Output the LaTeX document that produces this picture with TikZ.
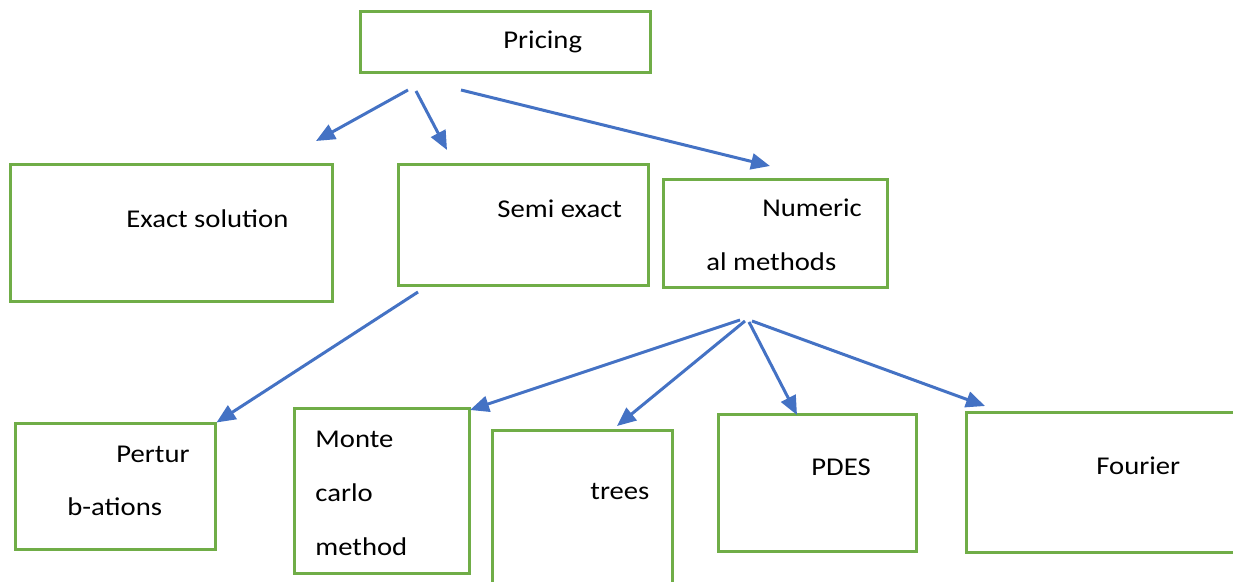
\documentclass[tikz,border=0pt]{standalone}
\usepackage{fontspec}
\setmainfont{Carlito}[FakeStretch=1.12]
\usetikzlibrary{arrows.meta}
\usetikzlibrary{fit}

\definecolor{boxgreen}{HTML}{70AD47}
\definecolor{arrowblue}{HTML}{4472C4}

\tikzset{
  box/.style={draw=boxgreen, line width=1.5pt, inner sep=0pt},
  txt/.style={anchor=base west, inner sep=0pt, font=\fontsize{12.8}{15}\selectfont},
  link/.style={draw=arrowblue, line width=1.5pt, -{Triangle[length=9.5pt,width=8pt]}}
}

\begin{document}
\begin{tikzpicture}[x=0.5pt, y=-0.5pt]
            \useasboundingbox (0,0) rectangle (1233,582);

            % Draw the boxes
            \node[box, fit={(360,12) (650,73)}] (pricing) {};
            \node[box, fit={(10,165) (332,302)}] (exact) {};
            \node[box, fit={(398,165) (648,286)}] (semi) {};
            \node[box, fit={(663,180) (887,288)}] (numeric) {};
            \node[box, fit={(15,424) (215,550)}] (pertur) {};
            \node[box, fit={(294,409) (469,574)}] (monte) {};
            \node[box, fit={(492,431) (672,595)}] (trees) {};
            \node[box, fit={(718,415) (916,552)}] (pdes) {};
            \node[box, fit={(966,413) (1245,553)}] (fourier) {};

            % Texts inside the boxes
            \node[txt] (pricing-t) at (503,49) {Pricing};
            \node[txt] (exact-t) at (126,228) {Exact solution};
            \node[txt] (semi-t) at (497,218) {Semi exact};
            \node[txt] (numeric-t1) at (762,217) {Numeric};
            \node[txt] (numeric-t2) at (706,271) {al methods};
            \node[txt] (pertur-t1) at (116,463) {Pertur};
            \node[txt] (pertur-t2) at (67,516) {b-ations};
            \node[txt] (monte-t1) at (315,448) {Monte};
            \node[txt] (monte-t2) at (315,502) {carlo};
            \node[txt] (monte-t3) at (315,556) {method};
            \node[txt] (trees-t) at (590,500) {trees};
            \node[txt] (pdes-t) at (811,476) {PDES};
            \node[txt] (fourier-t) at (1096,475) {Fourier};

            % Start and end points of the arrows
            \coordinate (P1) at (408,90);
            \coordinate (P2) at (416,91);
            \coordinate (P3) at (461,90);
            \coordinate (E1) at (316,141);
            \coordinate (S1) at (447,150);
            \coordinate (N1) at (770,166);
            \coordinate (Q1) at (418,292);
            \coordinate (R1) at (740,320);
            \coordinate (R2) at (745,321);
            \coordinate (R3) at (749,322);
            \coordinate (R4) at (752,321);
            \coordinate (M1) at (470,410);
            \coordinate (T1) at (617,426);
            \coordinate (D1) at (797,415);
            \coordinate (F1) at (985,406);

            % Draw the arrows
            \draw[link] (P1) -- (E1);
            \draw[link] (P2) -- (S1);
            \draw[link] (P3) -- (N1);
            \draw[link] (Q1) -- (pertur.north east);
            \draw[link] (R1) -- (M1);
            \draw[link] (R2) -- (T1);
            \draw[link] (R3) -- (D1);
            \draw[link] (R4) -- (F1);
\end{tikzpicture}
\end{document}
